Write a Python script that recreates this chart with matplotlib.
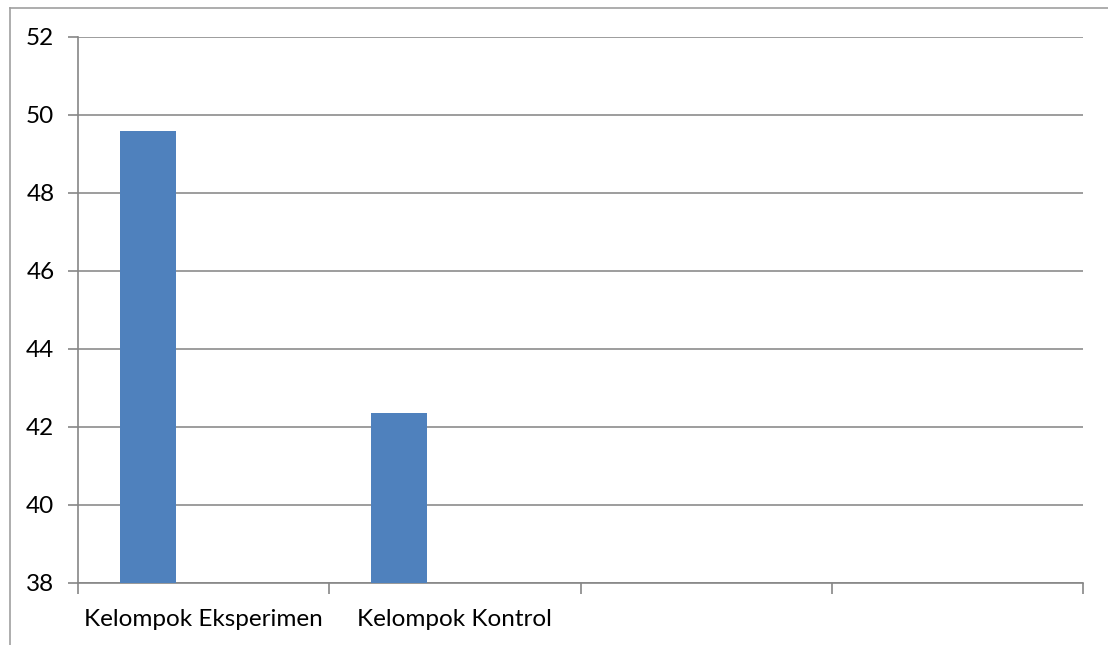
import numpy as np
import matplotlib.pyplot as plt
from matplotlib.lines import Line2D

# data
categories = ['Kelompok Eksperimen', 'Kelompok Kontrol', '', '']
series1 = [49.6, 42.35, np.nan, np.nan]
n_series = 3   # Excel-style clustered layout, only the first series has values
gap = 1.5

plt.rcParams['font.family'] = ['Lato', 'DejaVu Sans']

fig = plt.figure(figsize=(11.08, 6.45), dpi=100)
ax = fig.add_axes([78 / 1108, 62 / 645, 1005 / 1108, 546 / 645])

w = 1 / (n_series + gap)
x = np.arange(len(categories))
ax.bar(x + gap / 2 * w, series1, width=w, align='edge', color='#4F81BD', zorder=3)

ax.set_xlim(0, len(categories))
ax.set_ylim(38, 52)
ax.set_yticks(np.arange(38, 53, 2))

axis_col = '#868686'
ax.set_xticks(np.arange(len(categories) + 1))
ax.set_xticklabels([])
ax.set_xticks(x + 0.5, minor=True)
ax.set_xticklabels(categories, minor=True)
ax.tick_params(axis='x', which='major', length=8, width=1.2, color=axis_col, direction='out')
ax.tick_params(axis='x', which='minor', length=0, pad=19, labelsize=17.5)
ax.tick_params(axis='y', length=7, width=1.2, color=axis_col, labelsize=17.5, pad=10)

ax.yaxis.grid(True, color='#8C8C8C', linewidth=1.2, zorder=0)
ax.set_axisbelow(True)
for s in ['top', 'right']:
    ax.spines[s].set_visible(False)
for s in ['left', 'bottom']:
    ax.spines[s].set_color(axis_col)
    ax.spines[s].set_linewidth(1.2)

# outer chart border (only left and top visible)
bx, by = 9.5 / 1108, 1 - 7.5 / 645
fig.add_artist(Line2D([bx, bx], [0, by], color='#A0A0A0', linewidth=1.2, transform=fig.transFigure))
fig.add_artist(Line2D([bx, 1], [by, by], color='#A0A0A0', linewidth=1.2, transform=fig.transFigure))

fig.savefig('out.png', dpi=100, facecolor='white')
